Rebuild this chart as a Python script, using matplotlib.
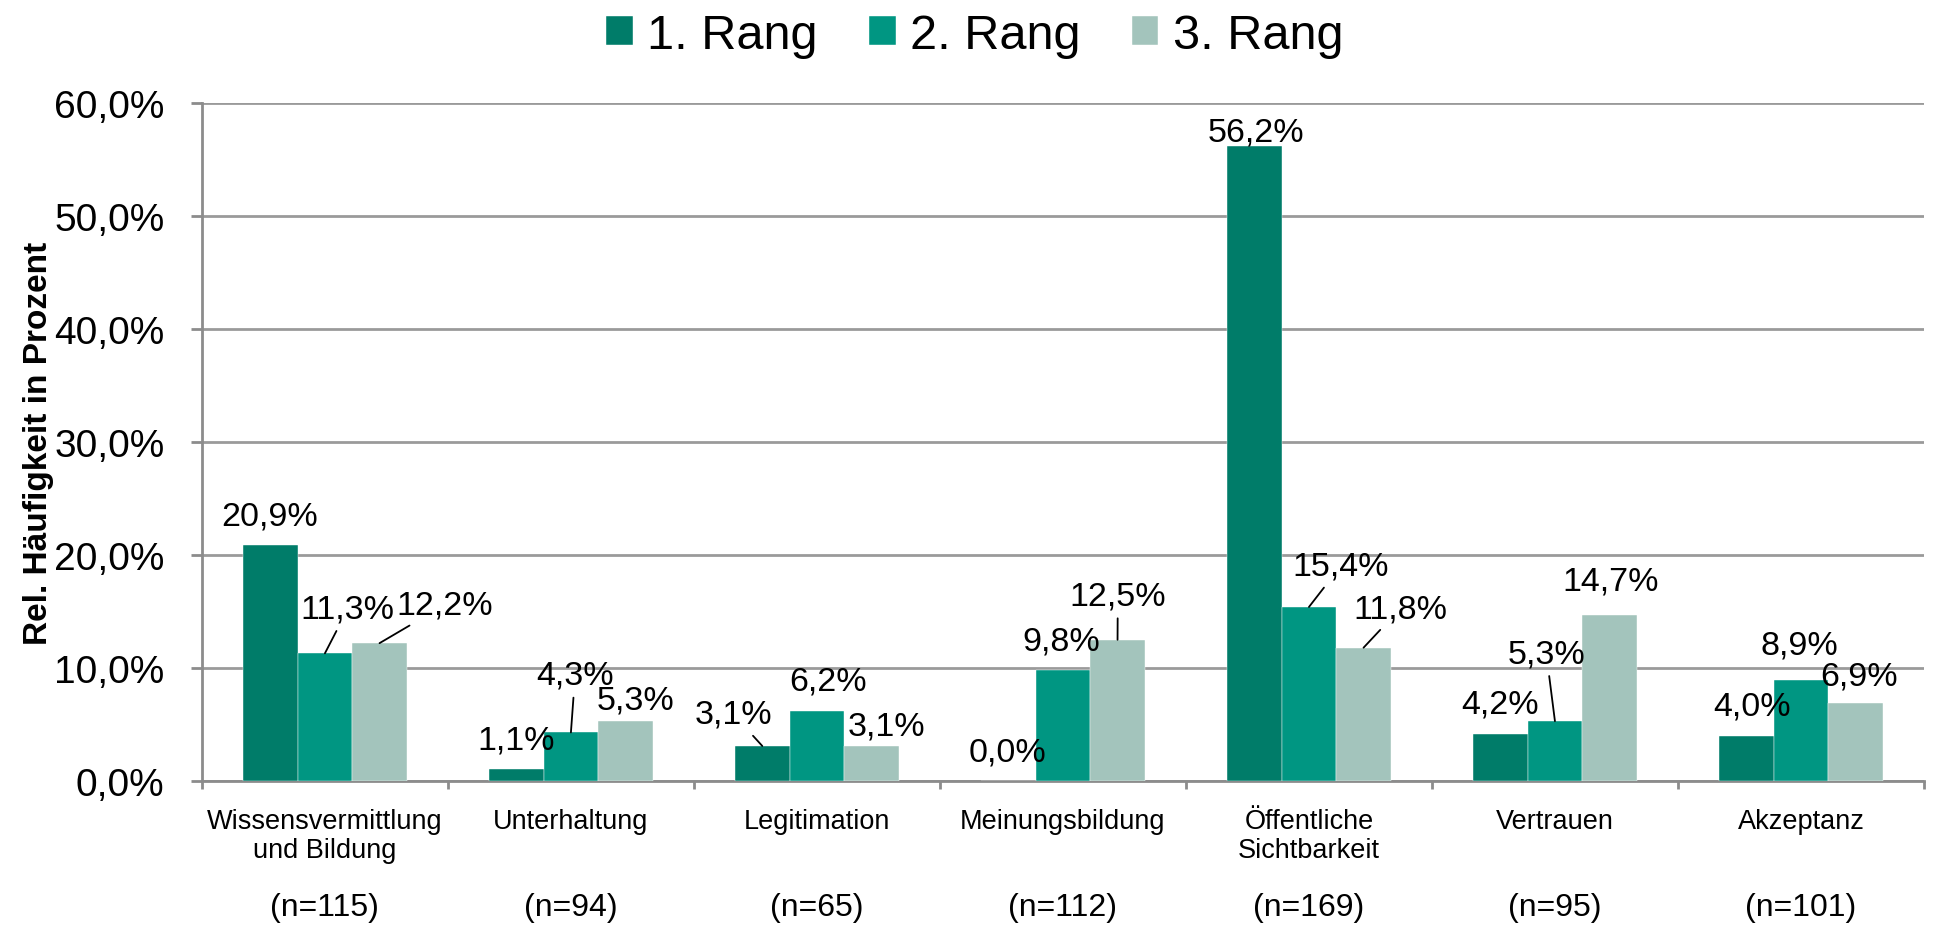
import matplotlib
matplotlib.use('Agg')
import matplotlib.pyplot as plt
import numpy as np

plt.rcParams['font.family'] = ['Liberation Sans', 'DejaVu Sans']

categories = ['Wissensvermittlung\nund Bildung', 'Unterhaltung', 'Legitimation', 'Meinungsbildung',
              'Öffentliche\nSichtbarkeit', 'Vertrauen', 'Akzeptanz']
n_labels = ['(n=115)', '(n=94)', '(n=65)', '(n=112)', '(n=169)', '(n=95)', '(n=101)']
series = ['1. Rang', '2. Rang', '3. Rang']
rang1 = [20.9, 1.1, 3.1, 0.0, 56.2, 4.2, 4.0]
rang2 = [11.3, 4.3, 6.2, 9.8, 15.4, 5.3, 8.9]
rang3 = [12.2, 5.3, 3.1, 12.5, 11.8, 14.7, 6.9]
y_ticks = [0, 10, 20, 30, 40, 50, 60]

colors = ['#007c69', '#009682', '#a3c4bc']

# where each value label sits (x in groups, y = middle of the digits in %), leader line yes/no
label_pos = [
    [(-0.226, 23.8, False), (0.778, 3.94, False), (1.661, 6.22, True), (2.774, 2.9, False),
     (3.786, 57.75, False), (4.778, 7.1, False), (5.8, 6.95, False)],
    [(0.093, 15.55, True), (1.017, 9.69, True), (2.046, 9.2, False), (2.995, 12.76, False),
     (4.129, 19.35, True), (4.965, 11.6, True), (5.993, 12.4, False)],
    [(0.485, 15.89, True), (1.263, 7.48, False), (2.283, 5.2, False), (3.223, 16.71, True),
     (4.371, 15.59, True), (5.225, 18.0, False), (6.238, 9.6, False)],
]
lbl_size = 24.5
base_shift = 0.358 * lbl_size * 100 / 72 * 60 / 678  # digit middle -> baseline, in %

fig = plt.figure(figsize=(19.34, 9.28), dpi=100)
ax = fig.add_axes([0.1044, 0.1573, 0.8904, 0.7306])

x = np.arange(len(categories))
w = 0.222
data = [rang1, rang2, rang3]
for k, vals in enumerate(data):
    ax.bar(x + (k - 1) * w, vals, width=w, color=colors[k], label=series[k],
           edgecolor='white', linewidth=0.3, zorder=3)
    for i, v in enumerate(vals):
        tx, ty, leader = label_pos[k][i]
        lbl = f'{v:.1f}%'.replace('.', ',')
        if leader:
            ax.annotate(lbl, xy=(i + (k - 1) * w, v), xytext=(tx, ty - base_shift),
                        ha='center', va='baseline', fontsize=lbl_size, zorder=5,
                        arrowprops=dict(arrowstyle='-', color='black', lw=1.3,
                                        shrinkA=3, shrinkB=0))
        else:
            ax.text(tx, ty - base_shift, lbl, ha='center', va='baseline',
                    fontsize=lbl_size, zorder=5)

ax.set_xlim(-0.5, 6.5)
ax.set_ylim(0, 60)
ax.set_yticks(y_ticks)
ax.set_yticklabels([f'{t:.1f}%'.replace('.', ',') for t in y_ticks], fontsize=28)
ax.set_xticks(np.arange(-0.5, 7, 1))
ax.set_xticklabels([])
ax.tick_params(axis='y', length=8, width=2, color='#8c8c8c', pad=19)
ax.tick_params(axis='x', length=6, width=2, color='#8c8c8c')
ax.grid(axis='y', color='#9a9a9a', lw=2, zorder=0)
for s in ['top', 'right']:
    ax.spines[s].set_visible(False)
for s in ['left', 'bottom']:
    ax.spines[s].set_color('#8c8c8c')
    ax.spines[s].set_linewidth(2)

trans = ax.get_xaxis_transform()
line_y = [-0.0689, -0.1117]
for i, c in enumerate(categories):
    for j, line in enumerate(c.split('\n')):
        ax.text(i, line_y[j], line, transform=trans, ha='center', va='baseline', fontsize=19.5)
    ax.text(i, -0.1976, n_labels[i], transform=trans, ha='center', va='baseline', fontsize=23)

ax.set_ylabel('Rel. Häufigkeit in Prozent', fontsize=24, fontweight='bold')
ax.yaxis.set_label_coords(-0.086, 0.5)

fig.legend(loc='center', bbox_to_anchor=(0.504, 0.961), ncol=3, frameon=False, borderpad=0,
           fontsize=35, handlelength=0.55, handleheight=0.55, handletextpad=0.3,
           columnspacing=1.05)

fig.savefig('out.png', dpi=100)
